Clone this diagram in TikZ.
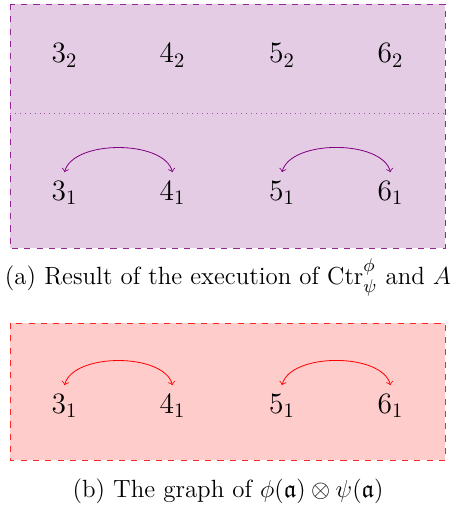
\documentclass[tikz,border=0pt]{standalone}
\usepackage{amssymb}
\begin{document}
\begin{tikzpicture}[x=0.4878pt,y=-0.4878pt,
  lbl/.style={anchor=base,inner sep=0pt,font=\Large},
  captxt/.style={anchor=base,inner sep=0pt,font=\fontsize{12.15}{14}\selectfont},
  arcv/.style={<->,violet},
  arcr/.style={<->,red},
  boxv/.style={draw=violet!85,dashed,fill=violet!20},
  boxr/.style={draw=red!85,dashed,fill=red!20}]
\useasboundingbox (0,0) rectangle (455,506);
% box (a)
\path[boxv] (10,4) rectangle (445,248);
\draw[violet!70,dotted] (10,113) -- (445,113);
\node[lbl] (a32) at (64.5,63) {$3_2$};
\node[lbl] (a42) at (172.5,63) {$4_2$};
\node[lbl] (a52) at (282,63) {$5_2$};
\node[lbl] (a62) at (390.5,63) {$6_2$};
\node[lbl] (a31) at (64.5,200) {$3_1$};
\node[lbl] (a41) at (172.5,200) {$4_1$};
\node[lbl] (a51) at (282,200) {$5_1$};
\node[lbl] (a61) at (390.5,200) {$6_1$};
\draw[arcv] ([yshift=4.1pt]a31.north) to[out=75,in=105,looseness=0.8] ([yshift=4.1pt]a41.north);
\draw[arcv] ([yshift=4.1pt]a51.north) to[out=75,in=105,looseness=0.8] ([yshift=4.1pt]a61.north);
\node[captxt] (capa) at (228,284) {(a) Result of the execution of $\mathrm{Ctr}^{\phi}_{\psi}$ and $A$};
% box (b)
\path[boxr] (10,323) rectangle (445,460);
\node[lbl] (b31) at (64.5,413) {$3_1$};
\node[lbl] (b41) at (172.5,413) {$4_1$};
\node[lbl] (b51) at (282,413) {$5_1$};
\node[lbl] (b61) at (390.5,413) {$6_1$};
\draw[arcr] ([yshift=4.1pt]b31.north) to[out=75,in=105,looseness=0.8] ([yshift=4.1pt]b41.north);
\draw[arcr] ([yshift=4.1pt]b51.north) to[out=75,in=105,looseness=0.8] ([yshift=4.1pt]b61.north);
\node[captxt] (capb) at (228,497) {(b) The graph of $\phi(\mathfrak{a})\otimes\psi(\mathfrak{a})$};
\end{tikzpicture}
\end{document}
